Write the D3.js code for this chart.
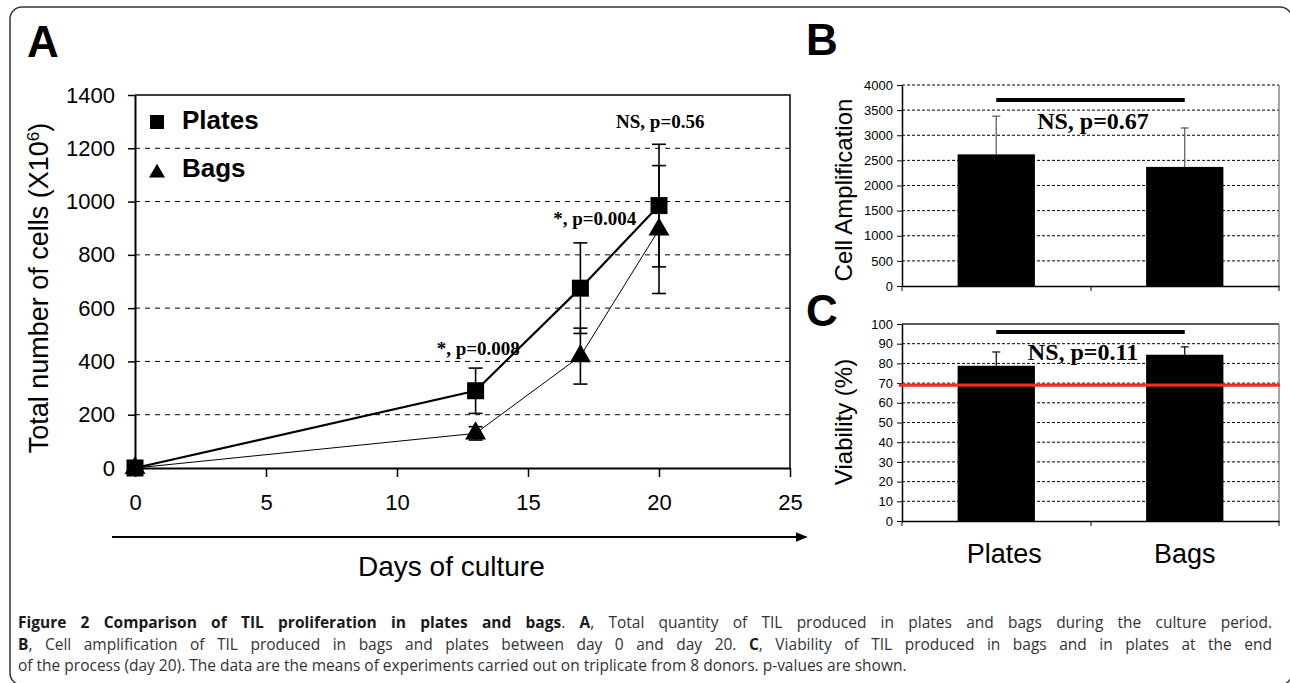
<!DOCTYPE html>
<html>
<head>
<meta charset="utf-8">
<script src="https://cdn.jsdelivr.net/npm/d3@7"></script>
<style>
	body { margin: 0; background: #fff; }
	svg text { font-family: Arial, "Liberation Sans", sans-serif; }
	.serif { font-family: "Liberation Serif", "Times New Roman", serif !important; font-weight: bold; }
	.cap { font-family: "Open Sans", sans-serif !important; }
</style>
</head>
<body>
<div id="chart"></div>
<script>
// panel A : total number of cells over the culture
let days		= [0, 13, 17, 20];
let platesCells	= [0, 290, 675, 985];
let platesErr	= [0, 85, 170, 230];
let bagsCells	= [0, 130, 420, 895];
let bagsErr		= [0, 25, 105, 240];
let aTicksY		= [0, 200, 400, 600, 800, 1000, 1200, 1400];
let aTicksX		= [0, 5, 10, 15, 20, 25];
let pLabels		= ["*, p=0.008", "*, p=0.004", "NS, p=0.56"];
let pLabelDay	= [13.1, 17.55, 20.05];
let pLabelVal	= [425, 912, 1276];

// panels B and C
let groups		= ["Plates", "Bags"];
let amplif		= [2620, 2370];
let amplifErr	= [760, 775];
let viab		= [78.8, 84.4];
let viabErr		= [7, 4];
let bTicks		= [0, 500, 1000, 1500, 2000, 2500, 3000, 3500, 4000];
let cTicks		= [0, 10, 20, 30, 40, 50, 60, 70, 80, 90, 100];
let viabLimit	= 69;

let captionLines = [
	[["Figure 2 Comparison of TIL proliferation in plates and bags", 1], [". ", 0], ["A", 1], [", Total quantity of TIL produced in plates and bags during the culture period.", 0]],
	[["B", 1], [", Cell amplification of TIL produced in bags and plates between day 0 and day 20. ", 0], ["C", 1], [", Viability of TIL produced in bags and in plates at the end", 0]],
	[["of the process (day 20). The data are the means of experiments carried out on triplicate from 8 donors. p-values are shown.", 0]]
];

let svg = d3.select("#chart").append("svg")
	.attr("width", 1290)
	.attr("height", 683);

svg.append("rect").attr("width", 1290).attr("height", 683).attr("fill", "#fff");

// frame round the figure
svg.append("rect")
	.attr("x", 10).attr("y", 7)
	.attr("width", 1282).attr("height", 678)
	.attr("rx", 12)
	.attr("fill", "none")
	.attr("stroke", "#333")
	.attr("stroke-width", 1.5);

// ---------------- panel A ----------------
let xA = d3.scaleLinear().domain([0, 25]).range([135, 790]);
let yA = d3.scaleLinear().domain([0, 1400]).range([468, 95]);

let gA = svg.append("g");

gA.selectAll("line.grid")
	.data(aTicksY.filter(d => d > 0 && d < 1400))
	.enter().append("line")
	.attr("x1", xA(0)).attr("x2", xA(25))
	.attr("y1", d => yA(d)).attr("y2", d => yA(d))
	.attr("stroke", "#000")
	.attr("stroke-dasharray", "5,5");

gA.append("path")
	.attr("d", `M${xA(0)},${yA(1400)}H${xA(25)}V${yA(0)}`)
	.attr("fill", "none").attr("stroke", "#000").attr("stroke-width", 1.5);

let axA = gA.append("g")
	.attr("transform", `translate(${xA(0)},0)`)
	.call(d3.axisLeft(yA).tickValues(aTicksY).tickFormat(d3.format("d")).tickSize(7).tickSizeOuter(0).tickPadding(13));
let axAx = gA.append("g")
	.attr("transform", `translate(0,${yA(0)})`)
	.call(d3.axisBottom(xA).tickValues(aTicksX).tickFormat(d3.format("d")).tickSize(9).tickSizeOuter(0).tickPadding(17));
[axA, axAx].forEach(a => {
	a.select(".domain").attr("stroke-width", 2);
	a.selectAll(".tick line").attr("stroke-width", 1.5);
	a.selectAll("text").attr("font-size", 22).attr("fill", "#000").style("font-family", "Arial");
});

let lineA = d3.line().x((d, i) => xA(days[i])).y(d => yA(d));

gA.append("path").datum(bagsCells)
	.attr("d", lineA).attr("fill", "none").attr("stroke", "#000").attr("stroke-width", 1);
gA.append("path").datum(platesCells)
	.attr("d", lineA).attr("fill", "none").attr("stroke", "#000").attr("stroke-width", 2.2);

function errBars(vals, errs) {
	let g = gA.append("g").attr("stroke", "#000").attr("stroke-width", 1.6);
	vals.forEach((v, i) => {
		if (!errs[i]) return;
		let x = xA(days[i]);
		g.append("line").attr("x1", x).attr("x2", x).attr("y1", yA(v - errs[i])).attr("y2", yA(v + errs[i]));
		[v - errs[i], v + errs[i]].forEach(e => {
			g.append("line").attr("x1", x - 7).attr("x2", x + 7).attr("y1", yA(e)).attr("y2", yA(e));
		});
	});
}
errBars(platesCells, platesErr);
errBars(bagsCells, bagsErr);

let sq  = d3.symbol().type(d3.symbolSquare).size(17 * 17);
let tri = d3.symbol().type(d3.symbolTriangle).size(190);

gA.selectAll("path.bag")
	.data(bagsCells)
	.enter().append("path")
	.attr("class", "bag")
	.attr("d", tri)
	.attr("transform", (d, i) => `translate(${xA(days[i])},${yA(d)})`);
gA.selectAll("path.plate")
	.data(platesCells)
	.enter().append("path")
	.attr("class", "plate")
	.attr("d", sq)
	.attr("transform", (d, i) => `translate(${xA(days[i])},${yA(d)})`);

gA.selectAll("text.pval")
	.data(pLabels)
	.enter().append("text")
	.attr("class", "serif")
	.attr("x", (d, i) => xA(pLabelDay[i]))
	.attr("y", (d, i) => yA(pLabelVal[i]))
	.attr("text-anchor", "middle")
	.attr("font-size", 19)
	.text(d => d);

// legend
gA.append("path").attr("d", d3.symbol().type(d3.symbolSquare).size(14 * 14)).attr("transform", "translate(157,122)");
gA.append("path").attr("d", d3.symbol().type(d3.symbolTriangle).size(110)).attr("transform", "translate(157,173)");
gA.append("text").attr("x", 182).attr("y", 129).attr("font-size", 26).attr("font-weight", "bold").text("Plates");
gA.append("text").attr("x", 182).attr("y", 177).attr("font-size", 26).attr("font-weight", "bold").text("Bags");

// axis titles, arrow
gA.append("text")
	.attr("transform", "translate(48,288) rotate(-90)")
	.attr("text-anchor", "middle")
	.attr("font-size", 27)
	.html('Total number of cells (X10<tspan baseline-shift="super" font-size="17">6</tspan>)');

svg.append("defs").append("marker")
	.attr("id", "arr").attr("viewBox", "0 0 10 10")
	.attr("refX", 1).attr("refY", 5)
	.attr("markerWidth", 6).attr("markerHeight", 6)
	.attr("orient", "auto")
	.append("path").attr("d", "M0,1L10,5L0,9Z");
gA.append("line")
	.attr("x1", 112).attr("x2", 797)
	.attr("y1", 537).attr("y2", 537)
	.attr("stroke", "#000").attr("stroke-width", 2)
	.attr("marker-end", "url(#arr)");
gA.append("text").attr("x", 358).attr("y", 576).attr("font-size", 28).text("Days of culture");

gA.append("text").attr("x", 27).attr("y", 57).attr("font-size", 44).attr("font-weight", "bold").text("A");

// ---------------- panels B and C ----------------
let xBC = d3.scaleBand().domain(groups).range([902, 1279]).paddingInner(0.59).paddingOuter(0.295);

function barPanel(opt) {
	let y = d3.scaleLinear().domain(opt.domain).range(opt.range);
	let g = svg.append("g");
	let top = opt.domain[1];

	g.selectAll("line.grid")
		.data(opt.ticks.filter(d => d > 0 && (opt.dashTop ? true : d < top)))
		.enter().append("line")
		.attr("x1", 902).attr("x2", 1279)
		.attr("y1", d => y(d)).attr("y2", d => y(d))
		.attr("stroke", "#000").attr("stroke-width", 1)
		.attr("stroke-dasharray", "3,2");

	if (!opt.dashTop) {
		g.append("line").attr("x1", 902).attr("x2", 1279).attr("y1", y(top)).attr("y2", y(top))
			.attr("stroke", "#222").attr("stroke-width", 1.3);
	}
	g.append("line").attr("x1", 1279).attr("x2", 1279).attr("y1", y(top)).attr("y2", y(0))
		.attr("stroke", "#777").attr("stroke-width", 1.3);

	g.selectAll("rect.bar")
		.data(opt.values)
		.enter().append("rect")
		.attr("x", (d, i) => xBC(groups[i]))
		.attr("width", xBC.bandwidth())
		.attr("y", d => y(d))
		.attr("height", d => y(0) - y(d))
		.attr("fill", "#000");

	let eg = g.append("g").attr("stroke", opt.errColor).attr("stroke-width", 1.2);
	opt.values.forEach((v, i) => {
		let cx = xBC(groups[i]) + xBC.bandwidth() / 2;
		eg.append("line").attr("x1", cx).attr("x2", cx).attr("y1", y(v)).attr("y2", y(v + opt.errs[i]));
		eg.append("line").attr("x1", cx - 4).attr("x2", cx + 4).attr("y1", y(v + opt.errs[i])).attr("y2", y(v + opt.errs[i]));
	});

	let ay = g.append("g").attr("transform", "translate(902,0)")
		.call(d3.axisLeft(y).tickValues(opt.ticks).tickFormat(d3.format("d")).tickSize(5).tickSizeOuter(0).tickPadding(4));
	let ax = g.append("g").attr("transform", `translate(0,${y(0)})`)
		.call(d3.axisBottom(xBC).tickValues([]).tickSizeOuter(0));
	[902, 1091, 1279].forEach(t => {
		ax.append("line").attr("x1", t).attr("x2", t).attr("y1", 0).attr("y2", 5).attr("stroke", "#000");
	});
	[ay, ax].forEach(a => a.select(".domain").attr("stroke-width", 1.5));
	ay.selectAll("text").attr("font-size", 13).attr("fill", "#000").style("font-family", "Arial");

	// significance bar
	let c0 = xBC(groups[0]) + xBC.bandwidth() / 2, c1 = xBC(groups[1]) + xBC.bandwidth() / 2;
	g.append("line").attr("x1", c0).attr("x2", c1).attr("y1", y(opt.sigAt)).attr("y2", y(opt.sigAt))
		.attr("stroke", "#000").attr("stroke-width", 4);
	g.append("text").attr("class", "serif")
		.attr("x", opt.sigX).attr("y", y(opt.sigTextAt))
		.attr("text-anchor", "middle").attr("font-size", 24).text(opt.sigText);

	g.append("text")
		.attr("transform", `translate(852,${opt.titleY}) rotate(-90)`)
		.attr("text-anchor", "middle").attr("font-size", 24).text(opt.title);
	g.append("text").attr("x", opt.letterX).attr("y", opt.letterY).attr("font-size", 44).attr("font-weight", "bold").text(opt.letter);
	return { g: g, y: y };
}

barPanel({
	domain: [0, 4000], range: [286, 85], ticks: bTicks, values: amplif, errs: amplifErr,
	errColor: "#555", dashTop: true, sigAt: 3700, sigTextAt: 3130, sigX: 1093, sigText: "NS, p=0.67",
	title: "Cell Amplification", titleY: 190, letter: "B", letterX: 806, letterY: 55
});

let pc = barPanel({
	domain: [0, 100], range: [521, 324], ticks: cTicks, values: viab, errs: viabErr,
	errColor: "#000", dashTop: false, sigAt: 96, sigTextAt: 81.5, sigX: 1083, sigText: "NS, p=0.11",
	title: "Viability (%)", titleY: 422, letter: "C", letterX: 806, letterY: 326
});

pc.g.append("line")
	.attr("x1", 899).attr("x2", 1280)
	.attr("y1", pc.y(viabLimit)).attr("y2", pc.y(viabLimit))
	.attr("stroke", "#ee3124").attr("stroke-width", 3.2);

svg.selectAll("text.grp")
	.data(groups)
	.enter().append("text")
	.attr("x", d => xBC(d) + xBC.bandwidth() / 2 + (d === "Plates" ? 8 : 0))
	.attr("y", 563)
	.attr("text-anchor", "middle")
	.attr("font-size", 27)
	.text(d => d);

// ---------------- caption ----------------
let capY = [628, 650, 671];
captionLines.forEach((parts, li) => {
	let t = svg.append("text").attr("class", "cap")
		.attr("x", 18).attr("y", capY[li])
		.attr("font-size", 15.5)
		.attr("fill", "#333");
	parts.forEach(p => {
		t.append("tspan")
			.attr("font-weight", p[1] ? "bold" : "normal")
			.attr("fill", p[1] ? "#1a1a1a" : "#333")
			.text(p[0]);
	});
	if (li < 2) {
		let full = parts.map(p => p[0]).join("");
		let spaces = (full.match(/ /g) || []).length;
		let len = t.node().getComputedTextLength();
		t.attr("word-spacing", Math.max(0, ((1272 - 18) - len) / spaces));
	}
});
</script>
</body>
</html>
